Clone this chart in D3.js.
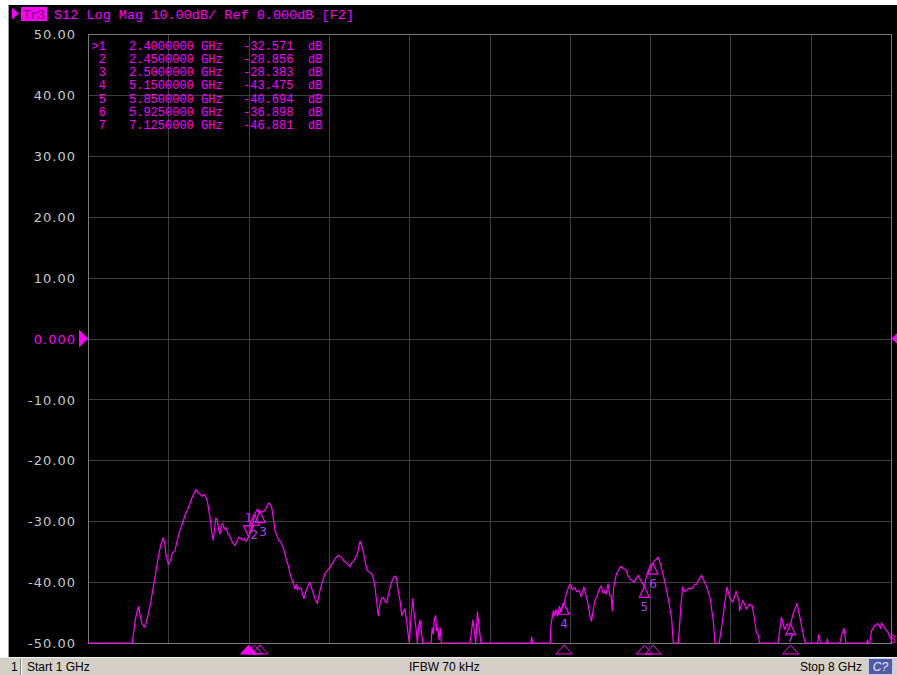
<!DOCTYPE html>
<html><head><meta charset="utf-8">
<script src="https://cdn.jsdelivr.net/npm/d3@7"></script>
<style>html,body{margin:0;padding:0;background:#fff;overflow:hidden}</style>
</head><body>
<script>
// ---- data ----
const freqGHz = [1.000,1.385,1.400,1.410,1.425,1.442,1.455,1.470,1.491,1.510,1.526,1.545,1.569,1.590,1.613,1.635,1.656,1.668,1.680,1.700,1.715,1.735,1.758,1.780,1.802,1.825,1.846,1.870,1.889,1.910,1.930,1.941,1.960,1.976,1.995,2.010,2.020,2.040,2.055,2.064,2.080,2.092,2.105,2.115,2.127,2.140,2.151,2.162,2.174,2.188,2.200,2.220,2.238,2.260,2.281,2.300,2.315,2.325,2.345,2.360,2.375,2.390,2.400,2.420,2.441,2.450,2.465,2.480,2.490,2.500,2.520,2.543,2.560,2.578,2.590,2.601,2.615,2.630,2.650,2.665,2.680,2.702,2.725,2.746,2.760,2.776,2.790,2.804,2.815,2.825,2.835,2.848,2.860,2.870,2.883,2.900,2.915,2.935,2.950,2.964,2.980,2.999,3.015,3.037,3.050,3.066,3.090,3.110,3.125,3.138,3.160,3.182,3.195,3.211,3.225,3.240,3.260,3.284,3.300,3.313,3.330,3.348,3.360,3.371,3.385,3.400,3.420,3.435,3.455,3.473,3.490,3.502,3.515,3.531,3.545,3.560,3.574,3.590,3.604,3.625,3.647,3.665,3.680,3.691,3.705,3.720,3.735,3.750,3.763,3.778,3.792,3.801,3.815,3.831,3.845,3.859,3.871,3.885,3.894,3.905,3.918,3.990,4.000,4.010,4.020,4.030,4.040,4.050,4.060,4.070,4.080,4.330,4.355,4.380,4.395,4.410,4.425,4.860,4.868,4.876,5.030,5.034,5.045,5.057,5.070,5.080,5.093,5.110,5.125,5.140,5.150,5.160,5.170,5.190,5.205,5.220,5.243,5.260,5.280,5.300,5.323,5.340,5.360,5.375,5.389,5.400,5.418,5.440,5.455,5.475,5.490,5.504,5.515,5.533,5.550,5.562,5.570,5.582,5.600,5.610,5.623,5.645,5.668,5.690,5.705,5.730,5.760,5.797,5.826,5.850,5.870,5.900,5.925,5.940,5.971,5.990,6.015,6.040,6.058,6.070,6.088,6.102,6.146,6.160,6.170,6.184,6.200,6.219,6.240,6.262,6.285,6.306,6.330,6.349,6.370,6.393,6.422,6.451,6.465,6.502,6.531,6.570,6.596,6.620,6.650,6.675,6.680,6.709,6.738,6.767,6.790,6.811,6.826,6.840,6.855,7.015,7.045,7.074,7.094,7.125,7.145,7.180,7.203,7.227,7.247,7.260,7.360,7.370,7.385,7.440,7.445,7.450,7.555,7.570,7.590,7.607,7.790,7.796,7.800,7.816,7.830,7.859,7.888,7.910,7.917,7.946,7.975,8.000];
const magDb = [-50,-50,-48.0,-46.4,-45.0,-44.0,-45.5,-46.8,-47.4,-46.5,-45.2,-43.5,-40.8,-38.5,-35.9,-33.8,-32.7,-33.5,-35.5,-37.1,-36.6,-35.3,-34.8,-33.0,-31.5,-30.3,-29.0,-28.0,-27.1,-26.0,-25.2,-24.8,-25.3,-25.5,-25.9,-25.6,-25.8,-26.6,-28.5,-29.3,-32.0,-33.1,-31.0,-29.5,-29.8,-31.5,-32.1,-30.6,-30.4,-31.3,-31.0,-32.0,-32.6,-33.5,-34.0,-33.2,-32.6,-32.7,-33.1,-32.8,-33.3,-33.0,-32.571,-31.3,-30.1,-28.856,-28.4,-28.0,-28.6,-28.383,-28.5,-28.2,-27.5,-27.0,-27.3,-27.7,-29.5,-31.5,-32.5,-33.2,-33.4,-34.3,-36.0,-37.3,-38.5,-39.5,-40.2,-41.1,-40.4,-41.3,-40.9,-41.1,-41.0,-42.0,-42.7,-41.5,-40.8,-40.0,-41.0,-41.9,-42.8,-43.5,-42.0,-40.3,-39.5,-38.6,-38.0,-37.6,-37.0,-36.7,-36.0,-35.6,-35.8,-36.0,-36.4,-36.6,-37.0,-37.5,-36.8,-36.7,-36.0,-35.4,-34.2,-33.3,-34.0,-35.0,-37.0,-38.1,-38.4,-38.6,-39.5,-40.8,-43.0,-45.5,-43.6,-42.7,-42.5,-43.2,-43.4,-41.5,-40.0,-39.2,-39.0,-39.5,-41.6,-43.0,-45.5,-44.8,-44.4,-46.5,-48.7,-50,-46,-42.7,-45.5,-47.5,-50,-47,-46.2,-48,-50,-50,-47.5,-48.5,-46.0,-45.5,-48.0,-47.5,-49.5,-47.5,-50,-50,-46.2,-50,-44.9,-47.5,-50,-50,-49.0,-50,-50,-47.4,-46.0,-44.7,-45.5,-44.5,-45.6,-44.0,-44.8,-43.6,-43.475,-42.6,-41.9,-40.8,-40.4,-41.2,-40.9,-41.6,-41.4,-42.4,-40.8,-42.0,-43.6,-45.5,-46.4,-45.0,-43.0,-42.2,-41.2,-40.6,-41.8,-41.5,-42.0,-40.3,-42.2,-42.4,-44.7,-41.0,-39.2,-38.5,-38.1,-37.4,-37.8,-38.0,-38.9,-39.6,-40.0,-38.9,-40.0,-40.694,-38.9,-37.3,-36.898,-36.5,-35.9,-37.0,-38.9,-41.0,-42.7,-44.0,-46.0,-50,-50,-46.3,-43.5,-40.8,-41.5,-41.3,-41.0,-41.1,-40.5,-40.3,-39.4,-38.9,-39.8,-40.8,-42.5,-46.4,-50,-50,-46.4,-40.8,-42.7,-43.3,-41.5,-43.0,-44.7,-43.0,-44.4,-43.6,-43.9,-46.1,-48.3,-48.5,-50,-50,-45.8,-47.8,-46.9,-46.881,-45.3,-43.5,-45.5,-47.8,-49.7,-50,-50,-48.6,-50,-50,-49.3,-50,-50,-48.6,-47.6,-50,-50,-49.5,-50,-50,-48.0,-47.1,-46.8,-47.6,-46.7,-47.6,-48.3,-49.4];

const markerIds   = ["1","2","3","4","5","6","7"];
const markerFreq  = [2.4, 2.45, 2.5, 5.15, 5.85, 5.925, 7.125];
const markerDb    = [-32.571, -28.856, -28.383, -43.475, -40.694, -36.898, -46.881];
const markerFreqLabel = ["2.4000000","2.4500000","2.5000000","5.1500000","5.8500000","5.9250000","7.1250000"];
const markerDbLabel   = ["-32.571","-28.856","-28.383","-43.475","-40.694","-36.898","-46.881"];

const yTicks = [50,40,30,20,10,0,-10,-20,-30,-40,-50];
const xGrid = d3.range(0,11).map(i => 1 + i*0.7);
const headerText = "S12 Log Mag 10.00dB/ Ref 0.000dB [F2]";
const statusStart = "Start 1 GHz", statusIfbw = "IFBW 70 kHz", statusStop = "Stop 8 GHz";

// ---- drawing ----
const W = 897, H = 675;
const MAG = "#ff00ff";
const svg = d3.select("body").append("svg").attr("width", W).attr("height", H);

svg.append("rect").attr("width", W).attr("height", H).attr("fill", "#ffffff");
svg.append("rect").attr("x", 8).attr("y", 5).attr("width", W-8).attr("height", 652).attr("fill", "#000");
svg.append("line").attr("x1", 8.5).attr("x2", 8.5).attr("y1", 5).attr("y2", 657).attr("stroke", "#9a9a9a");

const x = d3.scaleLinear().domain([1, 8]).range([88, 891]);
const y = d3.scaleLinear().domain([-50, 50]).range([643, 34]).clamp(true);

// grid
const g = svg.append("g");
g.selectAll("line.v").data(xGrid.slice(1, -1)).join("line")
  .attr("x1", d => Math.round(x(d)) + 0.5).attr("x2", d => Math.round(x(d)) + 0.5)
  .attr("y1", y(50)).attr("y2", y(-50)).attr("stroke", "#3e3e3e");
g.selectAll("line.h").data(yTicks.slice(1, -1)).join("line")
  .attr("y1", d => Math.round(y(d)) + 0.5).attr("y2", d => Math.round(y(d)) + 0.5)
  .attr("x1", x(1)).attr("x2", x(8)).attr("stroke", "#3e3e3e");
g.append("rect").attr("x", x(1) + 0.5).attr("y", y(50) + 0.5)
  .attr("width", x(8) - x(1)).attr("height", y(-50) - y(50))
  .attr("fill", "none").attr("stroke", "#7a7a7a");

// y axis labels
const yAxis = d3.axisLeft(y).tickValues(yTicks).tickSize(0).tickPadding(0)
  .tickFormat(d => d === 0 ? "0.000" : d.toFixed(2));
const ya = svg.append("g").attr("transform", "translate(76,0)").call(yAxis);
ya.select(".domain").remove();
ya.selectAll("text").attr("font-family", "DejaVu Sans, Verdana, sans-serif")
  .attr("font-size", 13).attr("letter-spacing", "1px")
  .attr("fill", d => d === 0 ? MAG : "#c8c8c8").attr("dy", "0.36em");

// ref arrows
svg.append("path").attr("d", `M${x(1)},${y(0)} L${x(1)-9},${y(0)-9} L${x(1)-9},${y(0)+9} Z`).attr("fill", MAG);
svg.append("path").attr("d", `M${x(8)+0.5},${y(0)} L${x(8)+9},${y(0)-8} L${x(8)+9},${y(0)+8} Z`).attr("fill", MAG);

// trace
const line = d3.line().x(d => x(d[0])).y(d => y(d[1]));
const pts = freqGHz.map((f, i) => [f, magDb[i]]);
svg.append("path").datum(pts).attr("d", line).attr("fill", "none")
  .attr("stroke", MAG).attr("stroke-width", 1.2).attr("stroke-linejoin", "round");

// on-trace markers
const mk = svg.append("g");
markerIds.forEach((id, i) => {
  const mx = x(markerFreq[i]), my = y(markerDb[i]);
  if (i === 0) {
    mk.append("path").attr("d", `M${mx},${my} L${mx-5},${my-11} L${mx+5},${my-11} Z`)
      .attr("fill", "none").attr("stroke", MAG).attr("stroke-width", 1.2);
    mk.append("text").attr("x", mx).attr("y", my - 15).attr("text-anchor", "middle")
      .attr("font-family", "DejaVu Sans, sans-serif").attr("font-size", 12).attr("fill", "#e020e0").text(id);
  } else {
    mk.append("path").attr("d", `M${mx},${my} L${mx-5},${my+11} L${mx+5},${my+11} Z`)
      .attr("fill", "none").attr("stroke", MAG).attr("stroke-width", 1.2);
    mk.append("text").attr("x", mx + (id === "3" ? 3 : 0)).attr("y", my + (id === "7" ? 18 : 25)).attr("text-anchor", "middle")
      .attr("font-family", "DejaVu Sans, sans-serif").attr("font-size", 12).attr("fill", "#b040f0").text(id);
  }
  // bottom stimulus triangles
  const by = 654;
  mk.append("path").attr("d", `M${mx},${by-9} L${mx-8},${by} L${mx+8},${by} Z`)
    .attr("fill", i === 0 ? MAG : "none").attr("stroke", MAG).attr("stroke-width", 1);
});

// trace number at right edge
svg.append("text").attr("x", 889).attr("y", 643).attr("font-family", "DejaVu Sans, sans-serif")
  .attr("font-size", 11).attr("fill", MAG).text("3");

// marker table
const mono = "Liberation Mono, DejaVu Sans Mono, monospace";
const tbl = svg.append("g").attr("font-family", mono).attr("font-size", 12).attr("fill", MAG);
markerIds.forEach((id, i) => {
  const by = 49.5 + i * 13.33;
  tbl.append("text").attr("x", 106).attr("y", by).attr("text-anchor", "end").text(i === 0 ? ">" + id : id);
  tbl.append("text").attr("x", 129).attr("y", by).text(markerFreqLabel[i]);
  tbl.append("text").attr("x", 201).attr("y", by).text("GHz");
  tbl.append("text").attr("x", 243).attr("y", by).text(markerDbLabel[i]);
  tbl.append("text").attr("x", 308).attr("y", by).text("dB");
});

// header
svg.append("path").attr("d", "M12,7.5 L19,13.5 L12,19.5 Z").attr("fill", MAG);
svg.append("rect").attr("x", 21).attr("y", 7).attr("width", 26).attr("height", 14).attr("fill", MAG);
svg.append("text").attr("x", 23).attr("y", 18.5).attr("font-family", mono).attr("font-size", 13.5)
  .attr("fill", "#5a005a").attr("textLength", 22).text("Tr3");
svg.append("text").attr("x", 54).attr("y", 18.5).attr("font-family", mono).attr("font-size", 13.5)
  .attr("fill", MAG).attr("textLength", 300).text(headerText);

// status bar
const sb = svg.append("g");
sb.append("rect").attr("x", 0).attr("y", 657).attr("width", W).attr("height", 18).attr("fill", "#d4d0c8");
sb.append("line").attr("x1", 0).attr("x2", W).attr("y1", 657.5).attr("y2", 657.5).attr("stroke", "#f0f0f0");
sb.append("line").attr("x1", 20.5).attr("x2", 20.5).attr("y1", 659).attr("y2", 675).attr("stroke", "#808080");
sb.append("line").attr("x1", 21.5).attr("x2", 21.5).attr("y1", 659).attr("y2", 675).attr("stroke", "#ffffff");
const sf = "Liberation Sans, Arial, sans-serif";
sb.append("text").attr("x", 11).attr("y", 671).attr("font-family", sf).attr("font-size", 12).attr("fill", "#000").text("1");
sb.append("text").attr("x", 27).attr("y", 671).attr("font-family", sf).attr("font-size", 12).attr("fill", "#000").text(statusStart);
sb.append("text").attr("x", 409).attr("y", 671).attr("font-family", sf).attr("font-size", 12).attr("fill", "#000").text(statusIfbw);
sb.append("text").attr("x", 862).attr("y", 671).attr("text-anchor", "end").attr("font-family", sf).attr("font-size", 12).attr("fill", "#000").text(statusStop);
sb.append("rect").attr("x", 868.5).attr("y", 658.5).attr("width", 24).attr("height", 16).attr("fill", "#4d5ba6").attr("stroke", "#c8cce8");
sb.append("text").attr("x", 880.5).attr("y", 671).attr("text-anchor", "middle").attr("font-family", sf).attr("font-size", 12)
  .attr("font-style", "italic").attr("fill", "#e8e8ff").text("C?");
</script>
</body></html>
